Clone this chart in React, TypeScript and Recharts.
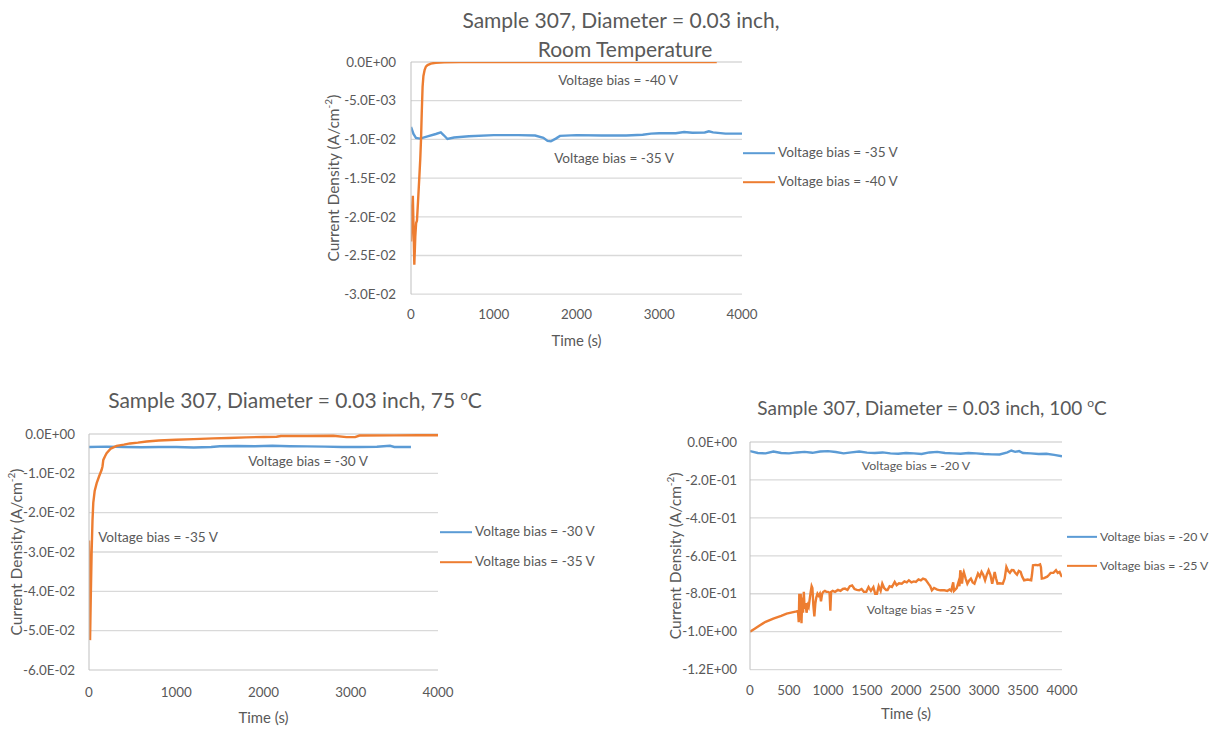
import React from "react";
import { CartesianGrid, Line, LineChart, XAxis, YAxis } from "recharts";

const BLUE = "#5B9BD5";
const ORANGE = "#ED7D31";
const INK = "#595959";
const GRID = "#D9D9D9";
const FONT = "Lato, 'Liberation Sans', sans-serif";

// --- room temperature run ---
const rtTime35 = [0, 30, 60, 110, 200, 300, 360, 400, 440, 520, 700, 1000, 1300, 1500, 1600, 1650, 1690, 1750, 1800, 2000, 2300, 2600, 2800, 2900, 3000, 3200, 3300, 3400, 3550, 3600, 3650, 3800, 4000];
const rtJ35 = [-8.4, -9.3, -9.8, -9.9, -9.6, -9.3, -9.1, -9.5, -9.95, -9.75, -9.6, -9.45, -9.45, -9.5, -9.8, -10.2, -10.25, -9.9, -9.55, -9.45, -9.5, -9.5, -9.4, -9.25, -9.2, -9.2, -9.05, -9.15, -9.1, -8.95, -9.1, -9.25, -9.25];
const rtTime40 = [0, 12, 22, 30, 40, 52, 62, 72, 85, 100, 112, 121, 130, 140, 150, 165, 180, 200, 240, 300, 400, 600, 1000, 2000, 3000, 3695];
const rtJ40 = [-23.2, -19, -17.3, -21, -26.2, -22.5, -20.8, -20.5, -18, -15, -12.5, -10, -6.5, -3.2, -1.8, -1.0, -0.6, -0.4, -0.2, -0.1, -0.05, -0.02, -0.01, 0, 0, 0];

// --- 75 C run ---
const t75Time30 = [0, 200, 400, 600, 800, 1000, 1200, 1400, 1500, 1700, 1900, 2100, 2300, 2500, 2700, 2900, 3100, 3300, 3450, 3500, 3690];
const t75J30 = [-3.3, -3.2, -3.3, -3.35, -3.3, -3.3, -3.45, -3.3, -3.1, -3.05, -3.1, -3.0, -3.1, -3.15, -3.2, -3.3, -3.3, -3.25, -3.0, -3.3, -3.3];
const t75Time35 = [0, 5, 12, 20, 30, 40, 49, 65, 88, 115, 145, 155, 164, 185, 202, 250, 317, 400, 470, 560, 661, 800, 1000, 1200, 1425, 1600, 1800, 2000, 2150, 2200, 2500, 2800, 2950, 3050, 3100, 3500, 3800, 4000];
const t75J35 = [-27.1, -35, -52.4, -42, -30.2, -22, -17.5, -14.5, -12.5, -10.8, -9.1, -8.2, -6.6, -5.6, -4.9, -3.7, -3.0, -2.7, -2.4, -2.2, -1.9, -1.65, -1.45, -1.3, -1.1, -1.0, -0.85, -0.75, -0.7, -0.5, -0.5, -0.45, -0.8, -0.8, -0.4, -0.35, -0.3, -0.3];

// --- 100 C run ---
const t100Time20 = [0, 100, 200, 300, 400, 500, 600, 700, 800, 900, 1000, 1100, 1200, 1300, 1400, 1500, 1600, 1700, 1800, 1900, 2000, 2100, 2200, 2300, 2400, 2500, 2600, 2700, 2800, 2900, 3000, 3100, 3200, 3300, 3350, 3400, 3450, 3500, 3600, 3700, 3800, 3900, 4000];
const t100J20 = [-0.048, -0.058, -0.06, -0.05, -0.058, -0.06, -0.055, -0.052, -0.057, -0.05, -0.048, -0.053, -0.06, -0.055, -0.05, -0.056, -0.058, -0.055, -0.06, -0.062, -0.058, -0.06, -0.063, -0.055, -0.052, -0.058, -0.06, -0.062, -0.058, -0.06, -0.063, -0.065, -0.066, -0.055, -0.045, -0.052, -0.048, -0.058, -0.06, -0.063, -0.062, -0.068, -0.075];
const t100Time25 = [0, 60, 128, 200, 299, 400, 470, 540, 598, 615, 625, 632, 642, 650, 660, 670, 680, 690, 700, 712, 725, 740, 752, 765, 778, 790, 800, 812, 825, 838, 850, 865, 880, 895, 910, 925, 940, 960, 980, 1000, 1020, 1030, 1040, 1060, 1090, 1127, 1160, 1190, 1218, 1250, 1280, 1309, 1340, 1370, 1400, 1430, 1460, 1491, 1520, 1550, 1582, 1605, 1627, 1650, 1675, 1696, 1720, 1745, 1764, 1790, 1820, 1855, 1880, 1910, 1946, 1980, 2010, 2037, 2070, 2100, 2127, 2160, 2190, 2218, 2250, 2287, 2310, 2332, 2360, 2400, 2440, 2491, 2530, 2559, 2580, 2605, 2616, 2628, 2650, 2673, 2685, 2696, 2707, 2718, 2730, 2741, 2765, 2787, 2810, 2832, 2855, 2878, 2900, 2923, 2946, 2969, 2990, 3014, 3036, 3059, 3082, 3105, 3120, 3137, 3155, 3173, 3200, 3241, 3265, 3287, 3310, 3332, 3355, 3378, 3400, 3423, 3446, 3469, 3490, 3514, 3560, 3605, 3615, 3628, 3660, 3690, 3719, 3730, 3741, 3770, 3810, 3835, 3855, 3890, 3923, 3945, 3969, 3985, 4000];
const t100J25 = [-1.0, -0.985, -0.966, -0.948, -0.931, -0.917, -0.905, -0.898, -0.893, -0.89, -0.95, -0.8, -0.94, -0.8, -0.955, -0.82, -0.9, -0.79, -0.88, -0.85, -0.9, -0.86, -0.87, -0.83, -0.79, -0.76, -0.77, -0.86, -0.92, -0.85, -0.82, -0.8, -0.81, -0.8, -0.84, -0.8, -0.79, -0.785, -0.79, -0.79, -0.795, -0.89, -0.79, -0.785, -0.79, -0.78, -0.785, -0.775, -0.773, -0.78, -0.76, -0.756, -0.775, -0.78, -0.782, -0.775, -0.79, -0.79, -0.765, -0.785, -0.765, -0.8, -0.8, -0.76, -0.785, -0.747, -0.77, -0.78, -0.78, -0.76, -0.765, -0.738, -0.755, -0.745, -0.747, -0.735, -0.74, -0.729, -0.74, -0.735, -0.738, -0.725, -0.73, -0.72, -0.725, -0.747, -0.76, -0.782, -0.77, -0.778, -0.782, -0.782, -0.785, -0.778, -0.785, -0.74, -0.785, -0.78, -0.77, -0.738, -0.76, -0.676, -0.7, -0.747, -0.7, -0.685, -0.72, -0.747, -0.73, -0.72, -0.74, -0.747, -0.72, -0.694, -0.71, -0.685, -0.7, -0.729, -0.7, -0.676, -0.7, -0.747, -0.72, -0.685, -0.72, -0.747, -0.745, -0.747, -0.72, -0.659, -0.68, -0.69, -0.675, -0.676, -0.69, -0.7, -0.68, -0.685, -0.71, -0.729, -0.725, -0.729, -0.7, -0.65, -0.648, -0.65, -0.645, -0.66, -0.72, -0.718, -0.71, -0.7, -0.69, -0.69, -0.676, -0.69, -0.685, -0.7, -0.712];

const timeTicks4k = [0, 1000, 2000, 3000, 4000];
const timeTicks500 = [0, 500, 1000, 1500, 2000, 2500, 3000, 3500, 4000];
const rtTicks = [0, -0.005, -0.01, -0.015, -0.02, -0.025, -0.03];
const t75Ticks = [0, -0.01, -0.02, -0.03, -0.04, -0.05, -0.06];
const t100Ticks = [0, -0.2, -0.4, -0.6, -0.8, -1.0, -1.2];

// pair up time / value arrays; scale turns the mA/cm2 lists into A/cm2
const zip = (ts: number[], js: number[], scale = 1) => ts.map((t, i) => ({ t, j: js[i] * scale }));

const sci = (v: number) => {
  if (v === 0) return "0.0E+00";
  const [m, e] = v.toExponential(1).split("e");
  const n = Number(e);
  return `${m}E${n < 0 ? "-" : "+"}${String(Math.abs(n)).padStart(2, "0")}`;
};

function YTitle({ viewBox, fontSize, dx }: any) {
  const x = viewBox.x + dx;
  const y = viewBox.y + viewBox.height / 2;
  return (
    <text
      x={x}
      y={y}
      transform={`rotate(-90 ${x} ${y})`}
      textAnchor="middle"
      dominantBaseline="central"
      fill={INK}
      fontSize={fontSize}
      fontFamily={FONT}
    >
      Current Density (A/cm
      <tspan dy={-5} fontSize={fontSize * 0.65}>-2</tspan>
      <tspan dy={5}>)</tspan>
    </text>
  );
}

type Series = { data: { t: number; j: number }[]; color: string; name: string };

function Panel(props: {
  left: number;
  top: number;
  width: number;
  height: number;
  yWidth: number;
  yTicks: number[];
  xTicks: number[];
  xTickMargin: number;
  yTickMargin: number;
  xLabelOffset: number;
  yLabelDx: number;
  series: Series[];
}) {
  const { left, top, width, height, yWidth, yTicks, xTicks, series } = props;
  const tickStyle = { fill: INK, fontSize: 13.4, fontFamily: FONT };
  return (
    <div style={{ position: "absolute", left, top }}>
      <LineChart width={width} height={height} margin={{ top: 10, right: 25, bottom: 0, left: 6 }}>
        <CartesianGrid vertical={false} stroke={GRID} strokeWidth={1.3} />
        <XAxis
          type="number"
          dataKey="t"
          domain={[0, 4000]}
          ticks={xTicks}
          allowDataOverflow
          height={60}
          axisLine={false}
          tickLine={false}
          tickMargin={props.xTickMargin}
          tick={tickStyle}
          label={{
            value: "Time (s)",
            position: "insideBottom",
            offset: props.xLabelOffset,
            fill: INK,
            fontSize: 14.9,
            fontFamily: FONT,
          }}
        />
        <YAxis
          type="number"
          domain={[yTicks[yTicks.length - 1], 0]}
          ticks={yTicks}
          allowDataOverflow
          width={yWidth}
          stroke="#BFBFBF"
          tickLine={false}
          tickMargin={props.yTickMargin}
          tickFormatter={sci}
          tick={tickStyle}
          label={{ content: (p: any) => <YTitle viewBox={p.viewBox} fontSize={15.5} dx={props.yLabelDx} /> }}
        />
        {series.map((s) => (
          <Line
            key={s.name}
            data={s.data}
            dataKey="j"
            name={s.name}
            type="linear"
            stroke={s.color}
            strokeWidth={2.4}
            dot={false}
            isAnimationActive={false}
          />
        ))}
      </LineChart>
    </div>
  );
}

function Centered({ x, y, size, children }: { x: number; y: number; size: number; children: React.ReactNode }) {
  return (
    <div
      style={{
        position: "absolute",
        left: x,
        top: y,
        transform: "translate(-50%, -50%)",
        whiteSpace: "nowrap",
        fontSize: size,
        color: INK,
        fontFamily: FONT,
        lineHeight: 1,
      }}
    >
      {children}
    </div>
  );
}

function LegendRow({ x, y, width, color, size, text }: { x: number; y: number; width: number; color: string; size: number; text: string }) {
  return (
    <div style={{ position: "absolute", left: x, top: y, transform: "translateY(-50%)", display: "flex", alignItems: "center", whiteSpace: "nowrap" }}>
      <div style={{ width, height: 2.5, background: color }} />
      <span style={{ marginLeft: 3, fontSize: size, color: INK, fontFamily: FONT, lineHeight: 1 }}>{text}</span>
    </div>
  );
}

export default function App() {
  return (
    <div style={{ position: "absolute", left: 0, top: 0, width: 1217, height: 729, background: "#fff", overflow: "hidden" }}>
      <Panel
        left={322}
        top={52.3}
        width={445}
        height={302.2}
        yWidth={83}
        yTicks={rtTicks}
        xTicks={timeTicks4k}
        xTickMargin={9}
        yTickMargin={9}
        xLabelOffset={8}
        yLabelDx={5}
        series={[
          { data: zip(rtTime35, rtJ35, 1e-3), color: BLUE, name: "Voltage bias = -35 V" },
          { data: zip(rtTime40, rtJ40, 1e-3), color: ORANGE, name: "Voltage bias = -40 V" },
        ]}
      />
      <Panel
        left={5}
        top={424}
        width={458}
        height={306}
        yWidth={78}
        yTicks={t75Ticks}
        xTicks={timeTicks4k}
        xTickMargin={11}
        yTickMargin={8}
        xLabelOffset={7.5}
        yLabelDx={5}
        series={[
          { data: zip(t75Time30, t75J30, 1e-3), color: BLUE, name: "Voltage bias = -30 V" },
          { data: zip(t75Time35, t75J35, 1e-3), color: ORANGE, name: "Voltage bias = -35 V" },
        ]}
      />
      <Panel
        left={656}
        top={431.7}
        width={431}
        height={297.6}
        yWidth={88}
        yTicks={t100Ticks}
        xTicks={timeTicks500}
        xTickMargin={10}
        yTickMargin={7}
        xLabelOffset={10.8}
        yLabelDx={13}
        series={[
          { data: zip(t100Time20, t100J20), color: BLUE, name: "Voltage bias = -20 V" },
          { data: zip(t100Time25, t100J25), color: ORANGE, name: "Voltage bias = -25 V" },
        ]}
      />

      {/* titles */}
      <Centered x={621} y={19} size={21}>Sample 307, Diameter = 0.03 inch,</Centered>
      <Centered x={625} y={48} size={21}>Room Temperature</Centered>
      <Centered x={295} y={399} size={21}>
        Sample 307, Diameter = 0.03 inch, 75 <sup style={{ fontSize: 13 }}>o</sup>C
      </Centered>
      <Centered x={932} y={407} size={19}>
        Sample 307, Diameter = 0.03 inch, 100 <sup style={{ fontSize: 12 }}>o</sup>C
      </Centered>

      {/* in-plot notes */}
      <Centered x={618} y={81} size={13.6}>Voltage bias = -40 V</Centered>
      <Centered x={614} y={159} size={13.6}>Voltage bias = -35 V</Centered>
      <Centered x={308} y={462} size={13.6}>Voltage bias = -30 V</Centered>
      <Centered x={158} y={538} size={13.6}>Voltage bias = -35 V</Centered>
      <Centered x={916} y={466} size={12.3}>Voltage bias = -20 V</Centered>
      <Centered x={921} y={610} size={12.3}>Voltage bias = -25 V</Centered>

      {/* legends */}
      <LegendRow x={743} y={153} width={32} color={BLUE} size={13.6} text="Voltage bias = -35 V" />
      <LegendRow x={743} y={182} width={32} color={ORANGE} size={13.6} text="Voltage bias = -40 V" />
      <LegendRow x={440} y={532} width={32} color={BLUE} size={13.6} text="Voltage bias = -30 V" />
      <LegendRow x={440} y={562} width={32} color={ORANGE} size={13.6} text="Voltage bias = -35 V" />
      <LegendRow x={1067} y={537} width={30} color={BLUE} size={12.3} text="Voltage bias = -20 V" />
      <LegendRow x={1067} y={566} width={30} color={ORANGE} size={12.3} text="Voltage bias = -25 V" />
    </div>
  );
}
